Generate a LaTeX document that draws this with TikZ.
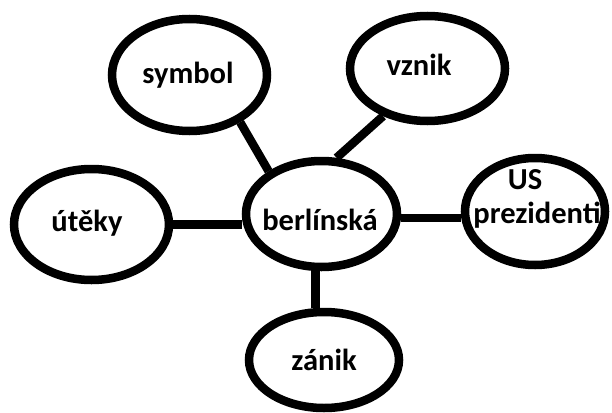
\documentclass[tikz,border=0pt]{standalone}
\usepackage{fontspec}
\setmainfont{Carlito}
\usetikzlibrary{shapes.geometric}
\begin{document}
\begin{tikzpicture}[x=1pt,y=-1pt,
  bub/.style={ellipse, draw, line width=8.5pt, inner sep=0pt},
  lbl/.style={font=\fontsize{30.5}{32}\selectfont\bfseries, anchor=base, inner sep=0pt},
  conn/.style={line width=8.5pt}]
\useasboundingbox[fill=white] (0,0) rectangle (612,412);
\node[bub, minimum width=155pt, minimum height=112pt] (symbol) at (189.5,75) {};
\node[bub, minimum width=155pt, minimum height=105pt] (vznik) at (427.5,68.5) {};
\node[bub, minimum width=151pt, minimum height=106pt] (berl) at (321.5,214) {};
\node[bub, minimum width=155pt, minimum height=111pt] (utky) at (91.5,224.5) {};
\node[bub, minimum width=140pt, minimum height=107pt] (uspr) at (535,211.5) {};
\node[bub, minimum width=150pt, minimum height=96pt] (zanik) at (324,360) {};
\draw[conn] (symbol.-43) -- (berl.141);
\draw[conn] (vznik.-133) -- (berl.75);
\draw[conn] (utky.east) -- (utky.east -| berl.west);
\draw[conn] (berl.-3) -- (berl.-3 -| uspr.west);
\draw[conn] (berl.-96) -- (berl.-96 |- zanik.north);
\node[lbl] (tsymbol) at (188,83) {symbol};
\node[lbl] (tvznik) at (419,75) {vznik};
\node[lbl] (tutky) at (87,231) {útěky};
\node[lbl] (tberl) at (320,230) {berlínská};
\node[lbl] (tus) at (525,189) {US};
\node[lbl] (tprez) at (537,223) {prezidenti};
\node[lbl] (tzanik) at (324,370) {zánik};
\end{tikzpicture}
\end{document}
